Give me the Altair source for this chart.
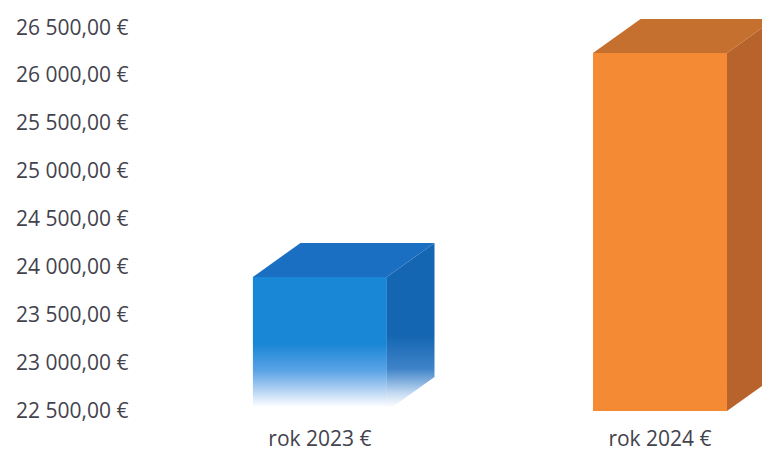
import altair as alt
import pandas as pd

# ---- data ----
categories = ["rok 2023 €", "rok 2024 €"]
values = [23900, 26240]
y_ticks = [22500, 23000, 23500, 24000, 24500, 25000, 25500, 26000, 26500]
front_colors = ["#1a86d6", "#f48a33"]
side_colors = ["#1466b2", "#b9632c"]
top_colors = ["#1a6fc2", "#c6702f"]

BASE = 22500
Y_MAX = 26500
HALF = 0.197   # half of bar front width (x units)
DX = 0.14      # 3D depth, horizontal (x units)
DY = 355       # 3D depth, vertical (value units)
X_DOM = [-0.529, 1.3]

FONT = "Open Sans"
TXT = "#43434d"
FS = 21

xs = alt.Scale(domain=X_DOM, nice=False, zero=False)
ys = alt.Scale(domain=[BASE, Y_MAX], nice=False, zero=False)
yaxis = alt.Axis(values=y_ticks,
                 labelExpr="replace(replace(format(datum.value, ',.2f'), ',', ' '), '.', ',') + ' €'",
                 domain=False, ticks=False, grid=False,
                 labelFont=FONT, labelFontSize=FS, labelColor=TXT,
                 labelPadding=12, title=None)

layers = []
for i, (cat, v) in enumerate(zip(categories, values)):
    front = pd.DataFrame({"cat": [cat], "x1": [i - HALF], "x2": [i + HALF],
                          "lo": [BASE], "hi": [v]})
    side = pd.DataFrame({"cat": [cat, cat], "x": [i + HALF, i + HALF + DX],
                         "lo": [BASE, BASE + DY], "hi": [v, v + DY]})
    top = pd.DataFrame({"cat": [cat, cat], "y": [v, v + DY],
                        "xa": [i - HALF, i - HALF + DX], "xb": [i + HALF, i + HALF + DX]})

    if i == 0:
        front_fill = alt.Gradient(
            gradient="linear", x1=0, x2=0, y1=0, y2=1,
            stops=[alt.GradientStop(color=front_colors[0], offset=0),
                   alt.GradientStop(color=front_colors[0], offset=0.5),
                   alt.GradientStop(color="#5aa3e6", offset=0.7),
                   alt.GradientStop(color="#b6d4f4", offset=0.85),
                   alt.GradientStop(color="#ffffff", offset=0.97),
                   alt.GradientStop(color="#ffffff", offset=1)])
        side_fill = alt.Gradient(
            gradient="linear", x1=0, x2=0, y1=0, y2=1,
            stops=[alt.GradientStop(color=side_colors[0], offset=0),
                   alt.GradientStop(color=side_colors[0], offset=0.55),
                   alt.GradientStop(color="#3f84c9", offset=0.75),
                   alt.GradientStop(color="#c9def3", offset=0.9),
                   alt.GradientStop(color="#ffffff", offset=0.98)])
    else:
        front_fill = front_colors[i]
        side_fill = side_colors[i]

    layers.append(
        alt.Chart(front).mark_rect(fill=front_fill).encode(
            x=alt.X("x1:Q", scale=xs, axis=None),
            x2="x2:Q",
            y=alt.Y("lo:Q", scale=ys, axis=yaxis),
            y2="hi:Q",
        )
    )
    layers.append(
        alt.Chart(side).mark_area(fill=side_fill, orient="vertical").encode(
            x=alt.X("x:Q", scale=xs, axis=None),
            y=alt.Y("lo:Q", scale=ys, axis=yaxis, stack=None),
            y2="hi:Q",
        )
    )
    layers.append(
        alt.Chart(top).mark_area(fill=top_colors[i], orient="horizontal").encode(
            y=alt.Y("y:Q", scale=ys, axis=yaxis),
            x=alt.X("xa:Q", scale=xs, axis=None, stack=None),
            x2="xb:Q",
        )
    )

labels = pd.DataFrame({"cat": categories, "idx": list(range(len(categories))),
                       "base": [BASE] * len(categories)})
layers.append(
    alt.Chart(labels).mark_text(font=FONT, fontSize=FS, color=TXT, dy=29,
                                baseline="middle", align="center").encode(
        x=alt.X("idx:Q", scale=xs, axis=None),
        y=alt.Y("base:Q", scale=ys, axis=yaxis),
        text="cat:N",
    )
)

chart = alt.layer(*layers).properties(
    width=622, height=383,
    autosize=alt.AutoSizeParams(type="none"),
    padding={"left": 132, "top": 20, "right": 0, "bottom": 40},
    background="white",
).configure_view(stroke=None)

chart.save("out.html", embed_options={"renderer": "svg", "actions": False})
